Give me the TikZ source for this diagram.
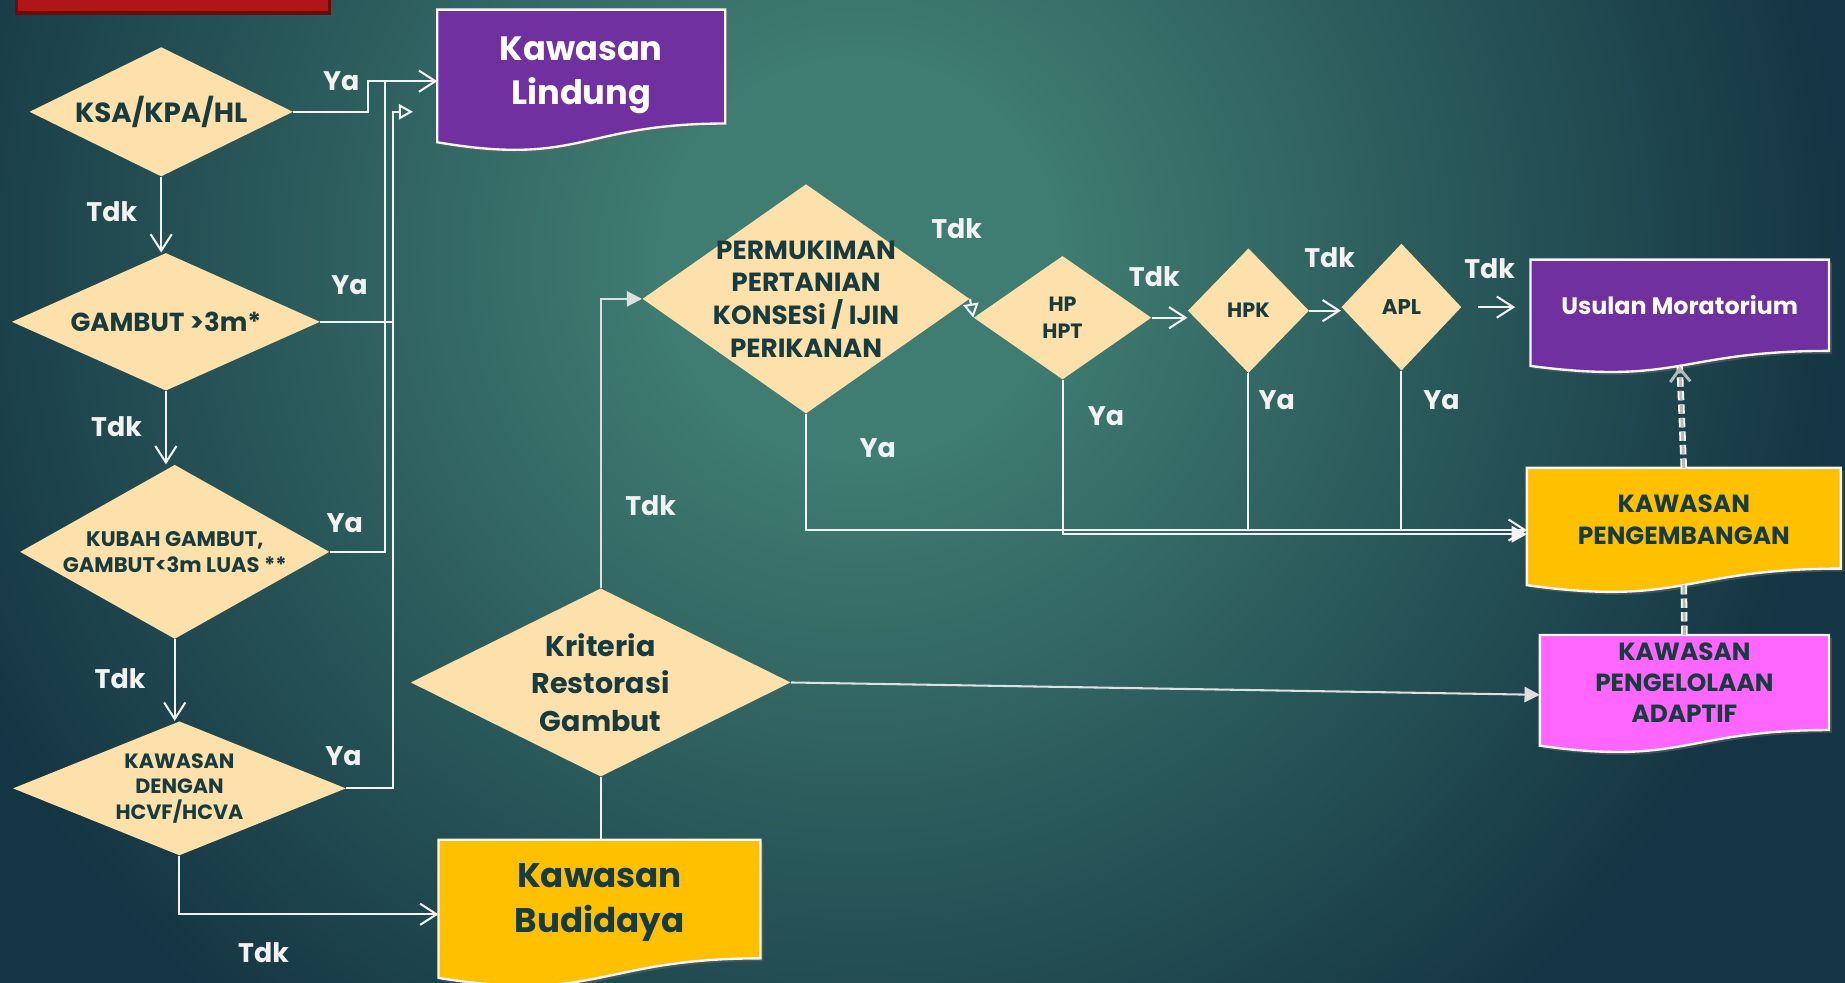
\documentclass[tikz,border=0pt]{standalone}
\usepackage{fontspec}
\setmainfont{Poppins}
\usetikzlibrary{positioning,arrows.meta,shapes.geometric,calc,backgrounds}
\definecolor{bgin}{HTML}{3F7C71}
\definecolor{bgout}{HTML}{143543}
\definecolor{peach}{HTML}{FDE0AA}
\definecolor{ink}{HTML}{173B3E}
\definecolor{lindungpurple}{HTML}{7030A0}
\definecolor{budiyellow}{HTML}{FFC000}
\definecolor{adapink}{HTML}{FF66FF}
\definecolor{titlered}{HTML}{B01616}
\definecolor{titledark}{HTML}{6A0C0C}
\definecolor{linec}{HTML}{F2F2F2}
\pgfdeclareradialshading{bgglow}{\pgfpoint{0bp}{0bp}}{color(0bp)=(bgin); color(3bp)=(bgin); color(15bp)=(bgout); color(50bp)=(bgout)}
\newcommand{\dn}[1]{\raisebox{-1mm}[\height][\depth]{#1}}
\tikzset{docpath/.style={insert path={(#1.north west) -- (#1.north east) -- ($(#1.north east)!0.802!(#1.south east)+(0mm,-3.05mm)$) .. controls ($(#1.north)!0.802!(#1.south)+(0mm,-3.05mm)$) and ($(#1.north)!1.1075!(#1.south)+(0mm,-4.21mm)$) .. ($(#1.north west)!0.934!(#1.south west)+(0mm,-3.55mm)$) -- cycle}}}

\begin{document}
\begin{tikzpicture}[x=0.2mm,y=-0.2mm,
 dia/.style={diamond,fill=peach,inner sep=0pt},
 diatext/.style={text=ink,align=center,inner sep=0pt},
 box/.style={rectangle,inner sep=0pt,align=center},
 yn/.style={text=linec,font=\fontsize{13}{15}\selectfont\bfseries,inner sep=1pt},
 ln/.style={draw=linec,line width=0.35mm},
 arr/.style={ln,-{Straight Barb[length=2.8mm,width=3.6mm]}},
 tri/.style={ln,-{Triangle[open,length=2.4mm,width=2.6mm]}},
 garr/.style={draw=gray!25,line width=0.35mm,-{Triangle[length=2.6mm,width=2.6mm,fill=gray!25]}},
 dsh/.style={draw=gray!55,line width=0.5mm,dash pattern=on 1.6mm off 0.7mm,-{Straight Barb[length=2.2mm,width=3.4mm]},
   preaction={draw=white,line width=1.1mm,-,dash pattern=on 1.6mm off 0.7mm}}]
\useasboundingbox (0,0) rectangle (1568,835);
\begin{scope}[on background layer]
\clip (0,0) rectangle (1568,835);
\shade[shading=bgglow] (730,220) circle[radius=280mm];
\filldraw[fill=titlered,draw=titledark,line width=0.6mm] (14,-10) rectangle (280,11);
\end{scope}

\node[dia,minimum width=44.8mm,minimum height=22mm,label={[diatext,font=\fontsize{13.4}{16}\selectfont\bfseries]center:KSA/KPA/HL}] (ksa) at (137,95) {};
\node[dia,minimum width=52.4mm,minimum height=23.4mm,label={[diatext,font=\fontsize{12.6}{15}\selectfont\bfseries]center:GAMBUT >3m*}] (gam) at (141,273.5) {};
\node[dia,minimum width=52.6mm,minimum height=29.6mm,label={[diatext,font=\fontsize{10.2}{12.5}\selectfont\bfseries]center:{KUBAH GAMBUT,\\GAMBUT<3m LUAS **}}] (kub) at (148.5,469) {};
\node[dia,minimum width=56.6mm,minimum height=22.8mm,label={[diatext,font=\fontsize{10}{12.2}\selectfont\bfseries]center:{KAWASAN\\DENGAN\\HCVF/HCVA}}] (kaw) at (152.5,670) {};
\node[dia,minimum width=64.6mm,minimum height=32mm,label={[diatext,font=\fontsize{13.8}{18.2}\selectfont\bfseries]center:{Kriteria\\Restorasi\\Gambut}}] (kri) at (510.5,580) {};
\node[dia,minimum width=55.6mm,minimum height=39mm,label={[diatext,font=\fontsize{12.7}{15.8}\selectfont\bfseries]center:{PERMUKIMAN\\PERTANIAN\\KONSESi / IJIN\\PERIKANAN}}] (per) at (685,254) {};
\node[dia,minimum width=30.2mm,minimum height=21mm,label={[diatext,font=\fontsize{10}{13.5}\selectfont\bfseries]center:{HP\\HPT}}] (hp) at (903,270) {};
\node[dia,minimum width=20.6mm,minimum height=21.2mm,label={[diatext,font=\fontsize{10}{12}\selectfont\bfseries]center:HPK}] (hpk) at (1061,264) {};
\node[dia,minimum width=20.4mm,minimum height=21.6mm,label={[diatext,font=\fontsize{10.3}{12}\selectfont\bfseries]center:APL}] (apl) at (1191,261) {};

\node[box,minimum width=48.8mm,minimum height=20.2mm,text=white,font=\fontsize{16.3}{21.6}\selectfont\bfseries] (lin) at (494,59) {\dn{Kawasan}\\\dn{Lindung}};
\node[box,minimum width=54.6mm,minimum height=21.2mm,text=ink,font=\fontsize{16.5}{21.6}\selectfont\bfseries] (bud) at (509.5,767) {Kawasan\\Budidaya};
\node[box,minimum width=50.6mm,minimum height=15.4mm,text=white,font=\fontsize{11.5}{14}\selectfont\bfseries] (mor) at (1427.5,259.5) {Usulan Moratorium};
\node[box,minimum width=53.2mm,minimum height=17.4mm,text=ink,font=\fontsize{12}{15.4}\selectfont\bfseries] (pen) at (1431,441.5) {KAWASAN\\PENGEMBANGAN};
\node[box,minimum width=49mm,minimum height=16.2mm,text=ink,font=\fontsize{12}{15}\selectfont\bfseries] (ada) at (1431.5,580.5) {KAWASAN\\PENGELOLAAN\\ADAPTIF};

\begin{scope}[on background layer]
\foreach \n/\c in {lin/lindungpurple,bud/budiyellow,mor/lindungpurple,pen/budiyellow,ada/adapink}{
 \begin{scope}[transform canvas={shift={(0.5mm,-0.5mm)}}]
 \fill[black!60,opacity=.5] [docpath=\n];
 \end{scope}
 \filldraw[fill=\c,draw=white!92!gray,line width=0.4mm] [docpath=\n];
}
\end{scope}

\node[yn] (tdkA) at (95,180) {Tdk};
\node[yn] (tdkB) at (99,363) {Tdk};
\node[yn] (tdkC) at (102,577) {Tdk};
\node[yn] (tdkD) at (224,810) {Tdk};
\node[yn] (yaA) at (290,69) {Ya};
\node[yn] (yaB) at (297,242) {Ya};
\node[yn] (yaC) at (293,445) {Ya};
\node[yn] (yaD) at (292,643) {Ya};
\node[yn] (tdkE) at (553,430) {Tdk};
\node[yn] (tdkF) at (813,194) {Tdk};
\node[yn] (tdkG) at (981,235) {Tdk};
\node[yn] (tdkH) at (1130,219) {Tdk};
\node[yn] (tdkI) at (1266,228) {Tdk};
\node[yn] (yaE) at (746,381) {Ya};
\node[yn] (yaF) at (940,354) {Ya};
\node[yn] (yaG) at (1085,340) {Ya};
\node[yn] (yaH) at (1225,340) {Ya};

\coordinate (jA) at (327,69);
\coordinate (jB) at (334,95);
\coordinate (tipB) at (351,95);
\coordinate (yaBus) at ([yshift=-1.8mm]pen.west);
\draw[arr] (ksa.south) -- (ksa.south |- gam.north);
\draw[arr] (gam.south) -- (gam.south |- kub.north);
\draw[arr] (kub.south) -- (kub.south |- kaw.north);
\draw[arr] (kaw.south) |- ([yshift=-2mm]bud.west);
\draw[arr] (ksa.east) -- ++(63,0) |- ([yshift=-2mm]lin.west);
\draw[ln] (kub.east) -| (jA);
\draw[ln] (gam.east) -- (gam.east -| jB);
\draw[tri] (kaw.east) -| (jB) -- (tipB);
\draw[ln] (kri.south) -- (kri.south |- bud.north);
\draw[garr] (kri.north) |- (per.west);
\draw[garr] (kri.east) -- ([yshift=-2mm]ada.west);
\draw[tri] (per.east) -- (hp.west);
\draw[arr] (hp.east) -- (hp.east -| hpk.west);
\draw[arr] (hpk.east) -- (hpk.east -| apl.west);
\draw[arr] ([xshift=2.8mm]apl.east) -- ([xshift=-2.6mm]apl.east -| mor.west);
\draw[arr] (per.south) |- (yaBus);
\draw[ln,-{Triangle[length=2.6mm,width=2.8mm]}] (hp.south) |- ([yshift=-2.5mm]pen.west);
\draw[ln] (hpk.south) -- (hpk.south |- yaBus);
\draw[ln] (apl.south) -- (apl.south |- yaBus);
\draw[dsh] (pen.north) -- ([yshift=-2.6mm]mor.south);
\draw[dsh,-] (ada.north) -- ([yshift=-2.4mm]pen.south);
\end{tikzpicture}
\end{document}
